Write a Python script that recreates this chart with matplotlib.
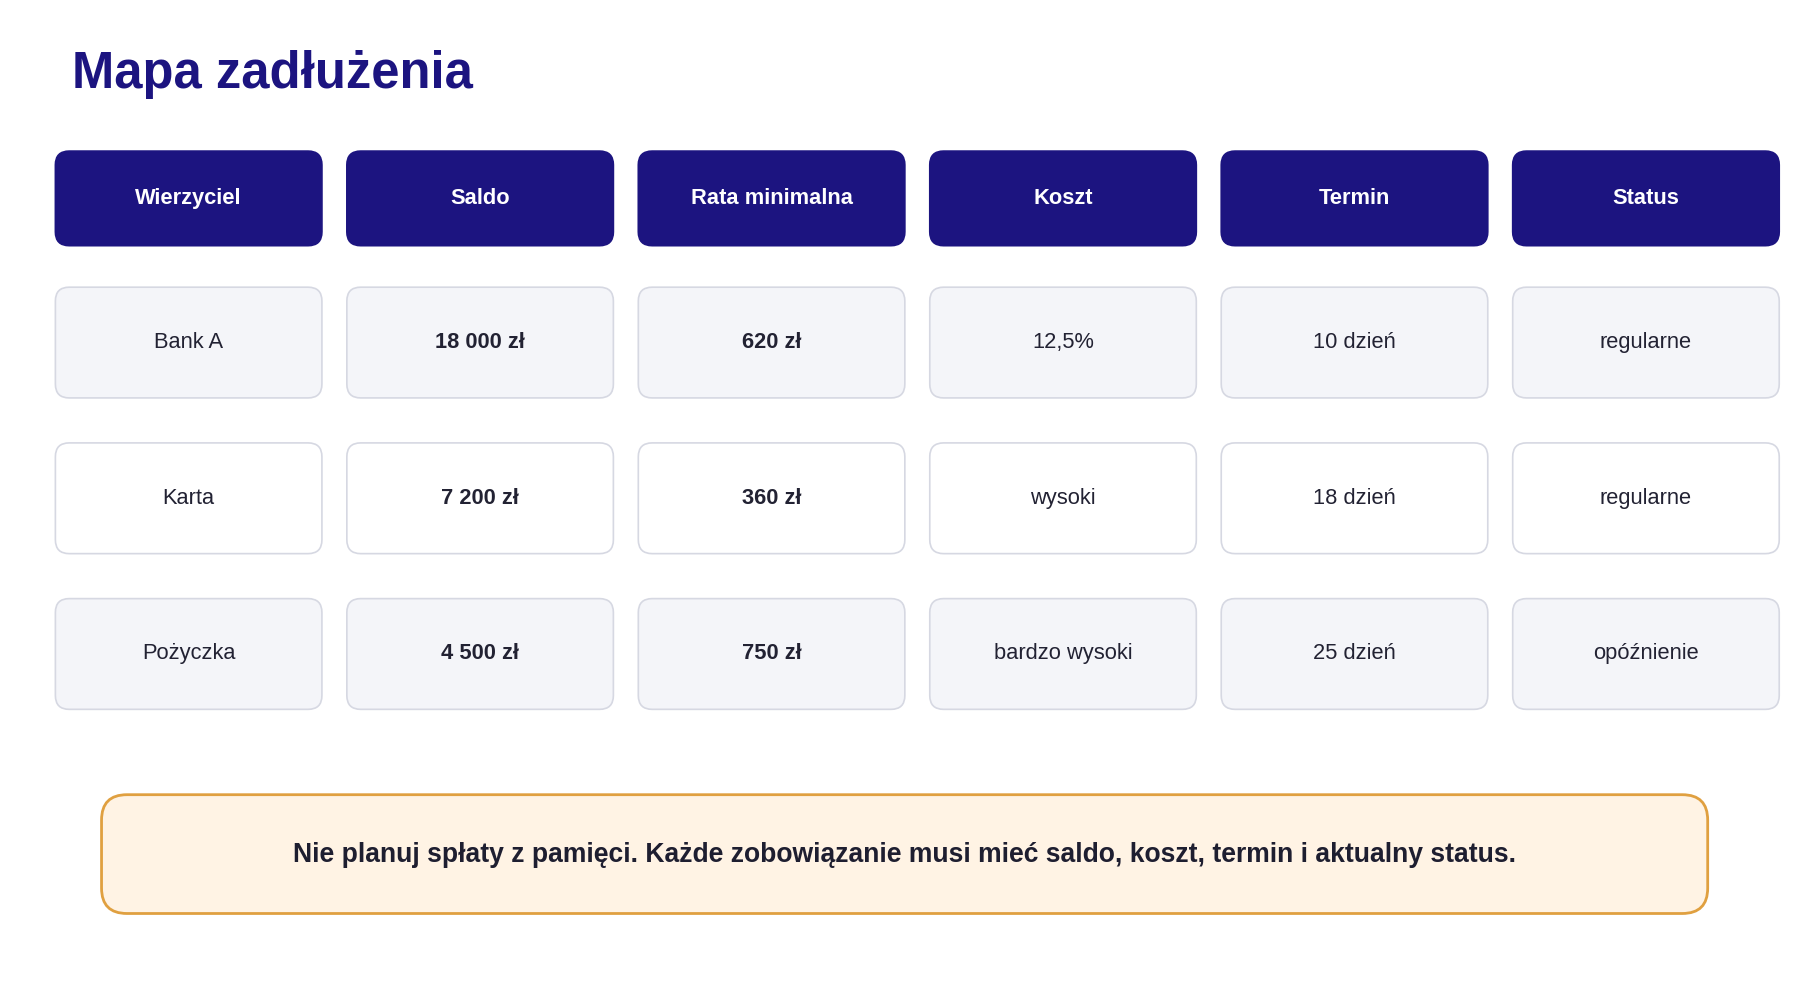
import matplotlib
matplotlib.use("Agg")
import matplotlib.pyplot as plt
from matplotlib.patches import FancyBboxPatch

title = "Mapa zadłużenia"
headers = ["Wierzyciel", "Saldo", "Rata minimalna", "Koszt", "Termin", "Status"]
creditors = ["Bank A", "Karta", "Pożyczka"]
balances = ["18 000 zł", "7 200 zł", "4 500 zł"]
min_payments = ["620 zł", "360 zł", "750 zł"]
costs = ["12,5%", "wysoki", "bardzo wysoki"]
due_days = ["10 dzień", "18 dzień", "25 dzień"]
statuses = ["regularne", "regularne", "opóźnienie"]
note = "Nie planuj spłaty z pamięci. Każde zobowiązanie musi mieć saldo, koszt, termin i aktualny status."

plt.rcParams['font.family'] = ['Liberation Sans', 'DejaVu Sans']
W, H = 1560, 867
fig = plt.figure(figsize=(18, 10), dpi=100)
ax = fig.add_axes([0, 0, 1, 1])
ax.set_xlim(0, W); ax.set_ylim(H, 0); ax.axis('off')
s = 1800 / W
def pt(px): return px * s * 0.72

ax.text(62, 65, title, fontsize=pt(44), fontweight='bold', color='#1c1480', va='center', ha='left')

x0, cw, step = 48, 231, 252.6
def box(x, y, w, h, fc, ec, lw=1.2, r=12):
    ax.add_patch(FancyBboxPatch((x, y), w, h, boxstyle=f"round,pad=0,rounding_size={r}",
                                fc=fc, ec=ec, lw=lw))
for i, hname in enumerate(headers):
    x = x0 + i * step
    box(x, 131, cw, 82, '#1c1480', '#1c1480')
    ax.text(x + cw / 2, 172, hname, fontsize=pt(19), fontweight='bold', color='white', ha='center', va='center')

cols = [creditors, balances, min_payments, costs, due_days, statuses]
bold = [False, True, True, False, False, False]
rows_y = [249, 384, 519]
fills = ['#f4f5f9', '#ffffff', '#f4f5f9']
for r, y in enumerate(rows_y):
    for c, col in enumerate(cols):
        x = x0 + c * step
        box(x, y, cw, 96, fills[r], '#d6d8e2')
        ax.text(x + cw / 2, y + 48, col[r], fontsize=pt(19), fontweight='bold' if bold[c] else 'normal',
                color='#222233', ha='center', va='center')

box(88, 689, 1392, 103, '#fff3e4', '#e0a040', lw=2, r=22)
ax.text(784, 741, note, fontsize=pt(23), fontweight='bold', color='#1e1e30', ha='center', va='center')

fig.savefig('out.png', dpi=100, facecolor='white')
